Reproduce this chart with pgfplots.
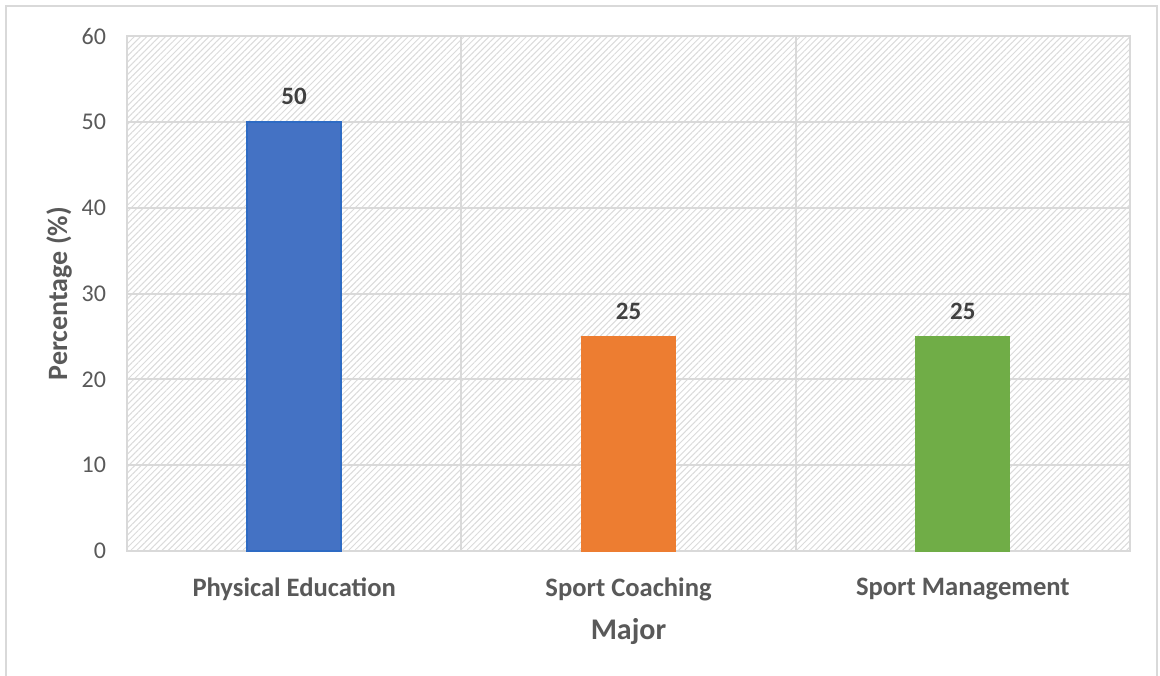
\documentclass[border=0pt]{standalone}
\usepackage{pgfplots}
\pgfplotsset{compat=1.18}
\usepackage{fontspec}
\setmainfont{Carlito}
\usetikzlibrary{patterns.meta}
\definecolor{gridc}{HTML}{D9D9D9}
\definecolor{tickc}{HTML}{595959}
\definecolor{lblc}{HTML}{404040}
\definecolor{cblue}{HTML}{4472C4}
\definecolor{cblueedge}{HTML}{2E6BC4}
\definecolor{corange}{HTML}{ED7D31}
\definecolor{cgreen}{HTML}{70AD47}
\begin{document}
\begin{tikzpicture}[x=0.5pt,y=0.5pt]
\path[use as bounding box] (0,0) rectangle (1160,675);
\draw[gridc, line width=1pt] (6,-5) -- (6,669) -- (1157,669) -- (1157,-5);
\begin{axis}[
  at={(63.5pt,62pt)}, anchor=south west,
  scale only axis, width=501.5pt, height=257.5pt,
  xmin=-0.5, xmax=2.5, ymin=0, ymax=60,
  ytick={0,10,...,60},
  xtick={0,1,2},
  xticklabels={Physical Education,Sport Coaching,Sport Management},
  x tick label style={font=\fontsize{13.3}{15}\selectfont\bfseries, text=tickc, yshift=-10pt},
  y tick label style={font=\fontsize{12}{14}\selectfont, text=tickc, xshift=-7pt},
  /pgf/number format/assume math mode=true,
  major tick length=0pt,
  ymajorgrids, grid style={gridc, line width=1pt},
  extra x ticks={0.5,1.5}, extra x tick labels={},
  extra x tick style={grid=major, major tick length=0pt},
  axis line style={gridc, line width=1pt},
  axis background/.style={fill=white, postaction={pattern={Lines[angle=45,distance=2.2pt,line width=0.5pt]}, pattern color=gray!28}},
  xlabel={Major}, ylabel={Percentage (\%)},
  xlabel style={font=\fontsize{15}{17}\selectfont\bfseries, text=tickc, yshift=-1.5pt},
  ylabel style={font=\fontsize{14}{16}\selectfont\bfseries, text=tickc, yshift=-2pt},
  ybar, bar width=47pt, bar shift=0pt,
  nodes near coords,
  every node near coord/.append style={font=\fontsize{12.5}{14}\selectfont\bfseries, text=lblc, yshift=5pt},
]
\addplot[fill=cblue, draw=cblueedge, line width=1pt] coordinates {(0,50)};
\addplot[fill=corange, draw=corange] coordinates {(1,25)};
\addplot[fill=cgreen, draw=cgreen] coordinates {(2,25)};
\end{axis}
\end{tikzpicture}
\end{document}
